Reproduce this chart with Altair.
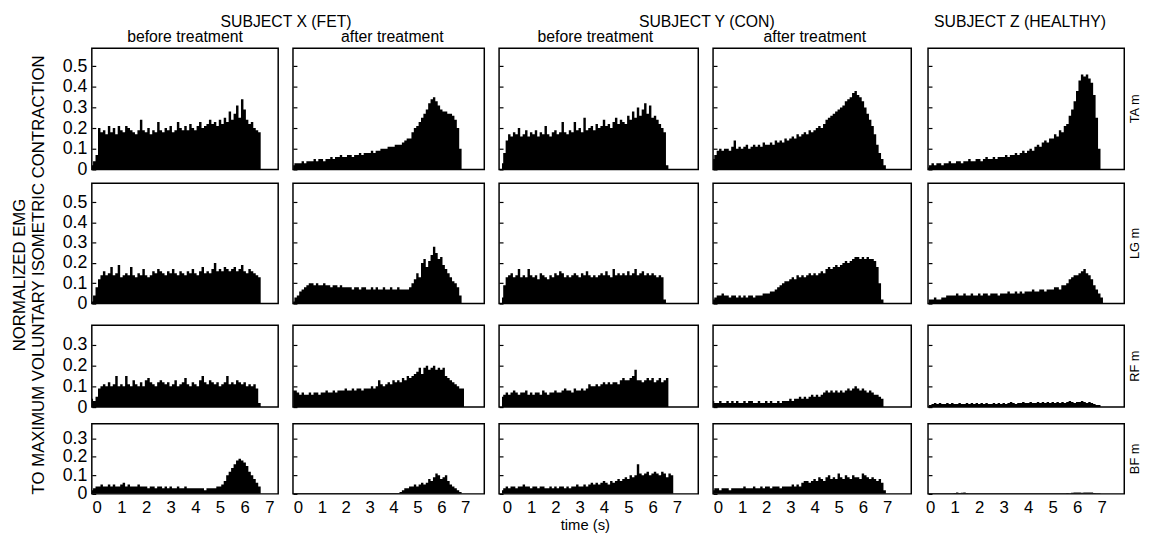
import altair as alt
import pandas as pd

# sampling grid of the EMG envelopes (seconds): first sample and step
T_START = -0.2
T_STEP = 0.1

# ---------------- TA m ----------------
ta_x_before = [
    0.02, 0.04, 0.07, 0.20, 0.18, 0.19, 0.17, 0.21, 0.18, 0.20,
    0.17, 0.21, 0.19, 0.18, 0.21, 0.20, 0.19, 0.18, 0.17, 0.19,
    0.24, 0.19, 0.18, 0.20, 0.17, 0.19, 0.18, 0.23, 0.19, 0.18,
    0.20, 0.19, 0.21, 0.18, 0.19, 0.23, 0.20, 0.19, 0.21, 0.19,
    0.22, 0.20, 0.19, 0.21, 0.23, 0.20, 0.21, 0.22, 0.24, 0.22,
    0.23, 0.21, 0.24, 0.22, 0.25, 0.23, 0.28, 0.24, 0.27, 0.31,
    0.25, 0.34, 0.29, 0.24, 0.22, 0.23, 0.20, 0.19, 0.18, 0,
]
ta_x_after = [
    0.02, 0.03, 0.03, 0.03, 0.04, 0.03, 0.04, 0.04, 0.04, 0.05,
    0.04, 0.05, 0.05, 0.04, 0.05, 0.05, 0.06, 0.05, 0.06, 0.06,
    0.07, 0.06, 0.06, 0.07, 0.07, 0.06, 0.07, 0.07, 0.08, 0.07,
    0.08, 0.08, 0.08, 0.09, 0.08, 0.09, 0.09, 0.10, 0.10, 0.10,
    0.11, 0.11, 0.11, 0.12, 0.12, 0.12, 0.13, 0.14, 0.15, 0.15,
    0.18, 0.20, 0.21, 0.23, 0.25, 0.27, 0.29, 0.32, 0.34, 0.35,
    0.33, 0.31, 0.29, 0.28, 0.28, 0.27, 0.27, 0.26, 0.24, 0.20,
    0.10, 0,
]
ta_y_before = [
    0.03, 0.08, 0.14, 0.17, 0.16, 0.18, 0.17, 0.20, 0.16, 0.17,
    0.19, 0.16, 0.18, 0.17, 0.19, 0.16, 0.18, 0.17, 0.21, 0.17,
    0.16, 0.18, 0.19, 0.17, 0.18, 0.23, 0.18, 0.17, 0.19, 0.18,
    0.23, 0.19, 0.20, 0.18, 0.25, 0.19, 0.20, 0.21, 0.19, 0.22,
    0.20, 0.21, 0.24, 0.21, 0.22, 0.20, 0.23, 0.25, 0.22, 0.24,
    0.23, 0.22, 0.26, 0.24, 0.28, 0.25, 0.30, 0.26, 0.29, 0.32,
    0.27, 0.31, 0.25, 0.26, 0.24, 0.22, 0.20, 0.18, 0.02, 0,
]
ta_y_after = [
    0.05, 0.07, 0.09, 0.10, 0.09, 0.10, 0.10, 0.09, 0.11, 0.14,
    0.10, 0.11, 0.10, 0.11, 0.12, 0.10, 0.11, 0.12, 0.11, 0.12,
    0.11, 0.13, 0.12, 0.12, 0.13, 0.12, 0.14, 0.13, 0.14, 0.13,
    0.15, 0.14, 0.15, 0.16, 0.15, 0.17, 0.16, 0.17, 0.18, 0.17,
    0.19, 0.18, 0.19, 0.20, 0.21, 0.20, 0.22, 0.24, 0.25, 0.26,
    0.27, 0.28, 0.29, 0.30, 0.31, 0.33, 0.34, 0.35, 0.37, 0.38,
    0.36, 0.35, 0.33, 0.30, 0.27, 0.24, 0.21, 0.17, 0.12, 0.08,
    0.05, 0.02, 0,
]
ta_z = [
    0, 0.01, 0.02, 0.03, 0.02, 0.03, 0.03, 0.02, 0.03, 0.03,
    0.04, 0.03, 0.03, 0.04, 0.04, 0.03, 0.04, 0.04, 0.05, 0.04,
    0.04, 0.05, 0.05, 0.04, 0.05, 0.06, 0.05, 0.05, 0.06, 0.05,
    0.06, 0.06, 0.06, 0.07, 0.06, 0.07, 0.07, 0.08, 0.07, 0.08,
    0.09, 0.08, 0.09, 0.10, 0.09, 0.11, 0.12, 0.11, 0.13, 0.14,
    0.13, 0.15, 0.15, 0.17, 0.16, 0.19, 0.18, 0.21, 0.22, 0.26,
    0.29, 0.33, 0.38, 0.43, 0.46, 0.45, 0.46, 0.44, 0.42, 0.36,
    0.25, 0.10, 0,
]

# ---------------- LG m ----------------
lg_x_before = [
    0.01, 0.04, 0.08, 0.12, 0.14, 0.16, 0.14, 0.15, 0.18, 0.14,
    0.15, 0.19, 0.13, 0.14, 0.15, 0.14, 0.18, 0.14, 0.13, 0.15,
    0.14, 0.17, 0.14, 0.13, 0.14, 0.16, 0.15, 0.17, 0.16, 0.15,
    0.14, 0.16, 0.15, 0.17, 0.15, 0.14, 0.16, 0.15, 0.14, 0.16,
    0.15, 0.17, 0.15, 0.14, 0.16, 0.18, 0.15, 0.16, 0.15, 0.17,
    0.20, 0.16, 0.17, 0.16, 0.18, 0.17, 0.16, 0.17, 0.18, 0.16,
    0.17, 0.19, 0.16, 0.15, 0.17, 0.16, 0.15, 0.14, 0.13, 0,
]
lg_x_after = [
    0.01, 0.03, 0.04, 0.06, 0.07, 0.08, 0.09, 0.10, 0.10, 0.09,
    0.10, 0.09, 0.09, 0.10, 0.09, 0.09, 0.08, 0.09, 0.09, 0.08,
    0.09, 0.08, 0.08, 0.08, 0.08, 0.07, 0.08, 0.08, 0.07, 0.08,
    0.08, 0.07, 0.07, 0.08, 0.07, 0.08, 0.07, 0.07, 0.08, 0.07,
    0.07, 0.08, 0.07, 0.07, 0.08, 0.07, 0.07, 0.07, 0.07, 0.08,
    0.10, 0.12, 0.15, 0.13, 0.20, 0.22, 0.18, 0.21, 0.24, 0.28,
    0.25, 0.22, 0.23, 0.19, 0.17, 0.15, 0.13, 0.11, 0.10, 0.08,
    0.04, 0,
]
lg_y_before = [
    0.03, 0.09, 0.13, 0.14, 0.15, 0.13, 0.14, 0.17, 0.13, 0.14,
    0.13, 0.17, 0.14, 0.13, 0.14, 0.12, 0.15, 0.14, 0.13, 0.12,
    0.14, 0.13, 0.15, 0.14, 0.16, 0.15, 0.13, 0.14, 0.13, 0.14,
    0.15, 0.14, 0.13, 0.15, 0.14, 0.16, 0.14, 0.13, 0.14, 0.13,
    0.14, 0.15, 0.14, 0.16, 0.14, 0.13, 0.17, 0.14, 0.15, 0.14,
    0.15, 0.14, 0.16, 0.14, 0.15, 0.17, 0.14, 0.15, 0.16, 0.14,
    0.15, 0.14, 0.15, 0.14, 0.13, 0.14, 0.13, 0.02, 0,
]
lg_y_after = [
    0.02, 0.03, 0.04, 0.04, 0.05, 0.04, 0.04, 0.03, 0.04, 0.04,
    0.03, 0.04, 0.03, 0.04, 0.03, 0.04, 0.04, 0.03, 0.04, 0.04,
    0.04, 0.05, 0.05, 0.05, 0.06, 0.06, 0.07, 0.08, 0.09, 0.10,
    0.11, 0.11, 0.12, 0.13, 0.12, 0.14, 0.13, 0.14, 0.13, 0.14,
    0.15, 0.14, 0.15, 0.14, 0.15, 0.16, 0.15, 0.17, 0.18, 0.17,
    0.18, 0.19, 0.18, 0.19, 0.20, 0.21, 0.20, 0.21, 0.22, 0.23,
    0.23, 0.22, 0.23, 0.22, 0.23, 0.22, 0.22, 0.21, 0.18, 0.10,
    0.02, 0,
]
lg_z = [
    0, 0, 0.02, 0.02, 0.03, 0.02, 0.02, 0.03, 0.03, 0.04,
    0.04, 0.04, 0.04, 0.05, 0.04, 0.04, 0.05, 0.04, 0.04, 0.05,
    0.04, 0.04, 0.05, 0.04, 0.05, 0.05, 0.04, 0.05, 0.05, 0.05,
    0.04, 0.05, 0.05, 0.05, 0.06, 0.05, 0.05, 0.06, 0.05, 0.06,
    0.05, 0.06, 0.06, 0.06, 0.07, 0.06, 0.06, 0.07, 0.07, 0.06,
    0.07, 0.07, 0.07, 0.08, 0.08, 0.07, 0.09, 0.09, 0.10, 0.12,
    0.13, 0.14, 0.14, 0.15, 0.16, 0.17, 0.15, 0.14, 0.12, 0.09,
    0.07, 0.05, 0.03, 0,
]

# ---------------- RF m ----------------
rf_x_before = [
    0.04, 0.03, 0.05, 0.09, 0.10, 0.11, 0.10, 0.12, 0.10, 0.11,
    0.15, 0.10, 0.11, 0.10, 0.15, 0.11, 0.10, 0.13, 0.11, 0.10,
    0.12, 0.10, 0.13, 0.14, 0.12, 0.11, 0.10, 0.12, 0.13, 0.12,
    0.11, 0.12, 0.10, 0.11, 0.13, 0.10, 0.11, 0.12, 0.14, 0.11,
    0.10, 0.12, 0.11, 0.10, 0.13, 0.15, 0.12, 0.11, 0.13, 0.12,
    0.11, 0.12, 0.10, 0.11, 0.12, 0.15, 0.11, 0.12, 0.11, 0.13,
    0.12, 0.11, 0.12, 0.10, 0.11, 0.10, 0.11, 0.09, 0.02, 0,
]
rf_x_after = [
    0.08, 0.08, 0.07, 0.06, 0.07, 0.06, 0.06, 0.07, 0.06, 0.07,
    0.07, 0.06, 0.07, 0.07, 0.08, 0.07, 0.07, 0.08, 0.07, 0.08,
    0.08, 0.08, 0.09, 0.08, 0.08, 0.09, 0.08, 0.09, 0.09, 0.08,
    0.09, 0.09, 0.09, 0.10, 0.09, 0.10, 0.13, 0.11, 0.10, 0.11,
    0.12, 0.11, 0.13, 0.12, 0.13, 0.12, 0.14, 0.13, 0.15, 0.14,
    0.15, 0.16, 0.17, 0.19, 0.16, 0.19, 0.20, 0.18, 0.19, 0.20,
    0.18, 0.19, 0.18, 0.19, 0.15, 0.14, 0.13, 0.12, 0.11, 0.10,
    0.09, 0.09, 0,
]
rf_y_before = [
    0.05, 0.06, 0.07, 0.06, 0.07, 0.08, 0.07, 0.06, 0.07, 0.07,
    0.08, 0.06, 0.07, 0.06, 0.07, 0.07, 0.06, 0.08, 0.07, 0.06,
    0.07, 0.07, 0.08, 0.07, 0.07, 0.08, 0.09, 0.08, 0.08, 0.07,
    0.09, 0.08, 0.08, 0.09, 0.08, 0.09, 0.11, 0.10, 0.10, 0.11,
    0.10, 0.11, 0.12, 0.11, 0.12, 0.11, 0.12, 0.12, 0.11, 0.13,
    0.14, 0.13, 0.13, 0.14, 0.15, 0.18, 0.13, 0.13, 0.12, 0.13,
    0.14, 0.13, 0.14, 0.12, 0.13, 0.14, 0.12, 0.13, 0.14, 0,
]
rf_y_after = [
    0.03, 0.02, 0.02, 0.03, 0.02, 0.02, 0.03, 0.02, 0.03, 0.02,
    0.03, 0.02, 0.02, 0.03, 0.02, 0.03, 0.03, 0.02, 0.02, 0.03,
    0.02, 0.02, 0.03, 0.02, 0.03, 0.02, 0.02, 0.03, 0.02, 0.03,
    0.03, 0.03, 0.04, 0.03, 0.04, 0.04, 0.05, 0.04, 0.05, 0.04,
    0.05, 0.06, 0.05, 0.06, 0.05, 0.06, 0.07, 0.08, 0.07, 0.08,
    0.07, 0.08, 0.07, 0.08, 0.07, 0.08, 0.09, 0.08, 0.09, 0.10,
    0.09, 0.08, 0.09, 0.08, 0.07, 0.08, 0.07, 0.06, 0.06, 0.05,
    0.04, 0,
]
rf_z = [
    0, 0, 0.01, 0.015, 0.02, 0.015, 0.02, 0.015, 0.015, 0.02,
    0.015, 0.02, 0.015, 0.015, 0.02, 0.015, 0.015, 0.02, 0.015, 0.02,
    0.015, 0.02, 0.015, 0.02, 0.015, 0.02, 0.015, 0.015, 0.02, 0.015,
    0.02, 0.015, 0.02, 0.015, 0.02, 0.025, 0.02, 0.015, 0.02, 0.02,
    0.025, 0.02, 0.02, 0.025, 0.02, 0.02, 0.025, 0.02, 0.025, 0.02,
    0.025, 0.02, 0.025, 0.02, 0.025, 0.02, 0.025, 0.02, 0.025, 0.03,
    0.025, 0.02, 0.025, 0.025, 0.03, 0.025, 0.02, 0.025, 0.02, 0.015,
    0.01, 0.01, 0,
]

# ---------------- BF m ----------------
bf_x_before = [
    0.02, 0.03, 0.04, 0.04, 0.05, 0.04, 0.04, 0.05, 0.04, 0.05,
    0.04, 0.04, 0.05, 0.06, 0.04, 0.05, 0.04, 0.04, 0.04, 0.05,
    0.04, 0.04, 0.04, 0.03, 0.04, 0.04, 0.03, 0.04, 0.04, 0.03,
    0.04, 0.03, 0.04, 0.03, 0.03, 0.04, 0.03, 0.03, 0.04, 0.03,
    0.03, 0.03, 0.03, 0.03, 0.03, 0.03, 0.02, 0.03, 0.03, 0.03,
    0.03, 0.04, 0.04, 0.05, 0.07, 0.10, 0.12, 0.14, 0.16, 0.18,
    0.19, 0.18, 0.17, 0.15, 0.12, 0.10, 0.08, 0.06, 0.04, 0,
]
bf_x_after = [
    0.005, 0.005, 0.005, 0.005, 0.005, 0.005, 0.005, 0.005, 0.005, 0.005,
    0.005, 0.005, 0.005, 0.005, 0.005, 0.005, 0.005, 0.005, 0.005, 0.005,
    0.005, 0.005, 0.005, 0.005, 0.005, 0.005, 0.005, 0.005, 0.005, 0.005,
    0.005, 0.005, 0.005, 0.005, 0.005, 0.005, 0.005, 0.005, 0.005, 0.005,
    0.005, 0.005, 0.005, 0.005, 0.005, 0.01, 0.02, 0.03, 0.03, 0.04,
    0.04, 0.05, 0.04, 0.05, 0.06, 0.05, 0.06, 0.08, 0.07, 0.09,
    0.11, 0.10, 0.08, 0.09, 0.10, 0.07, 0.05, 0.04, 0.03, 0.02,
    0.01, 0,
]
bf_y_before = [
    0.02, 0.03, 0.04, 0.03, 0.04, 0.04, 0.03, 0.04, 0.04, 0.05,
    0.04, 0.04, 0.03, 0.04, 0.04, 0.03, 0.04, 0.04, 0.03, 0.03,
    0.04, 0.03, 0.04, 0.03, 0.04, 0.04, 0.03, 0.04, 0.03, 0.04,
    0.04, 0.05, 0.04, 0.04, 0.05, 0.04, 0.05, 0.06, 0.05, 0.06,
    0.05, 0.06, 0.07, 0.06, 0.05, 0.07, 0.06, 0.07, 0.08, 0.07,
    0.08, 0.09, 0.08, 0.10, 0.09, 0.10, 0.16, 0.11, 0.10, 0.11,
    0.12, 0.10, 0.11, 0.12, 0.11, 0.10, 0.12, 0.11, 0.09, 0.11,
    0.10, 0,
]
bf_y_after = [
    0.02, 0.03, 0.03, 0.02, 0.03, 0.03, 0.03, 0.02, 0.03, 0.03,
    0.03, 0.03, 0.03, 0.04, 0.03, 0.03, 0.03, 0.04, 0.03, 0.03,
    0.04, 0.03, 0.04, 0.04, 0.03, 0.04, 0.04, 0.04, 0.03, 0.04,
    0.04, 0.04, 0.04, 0.05, 0.04, 0.05, 0.04, 0.06, 0.07, 0.07,
    0.06, 0.07, 0.08, 0.07, 0.09, 0.08, 0.07, 0.09, 0.10, 0.08,
    0.09, 0.08, 0.11, 0.09, 0.08, 0.10, 0.09, 0.08, 0.10, 0.09,
    0.09, 0.08, 0.11, 0.10, 0.09, 0.08, 0.09, 0.08, 0.07, 0.08,
    0.06, 0.02, 0,
]
bf_z = [
    0, 0, 0.003, 0.003, 0.003, 0.003, 0.003, 0.003, 0.003, 0.003,
    0.003, 0.003, 0.005, 0.008, 0.005, 0.006, 0.008, 0.005, 0.003, 0.003,
    0.003, 0.003, 0.003, 0.003, 0.003, 0.003, 0.003, 0.003, 0.003, 0.003,
    0.003, 0.003, 0.003, 0.003, 0.003, 0.003, 0.003, 0.003, 0.003, 0.003,
    0.003, 0.003, 0.003, 0.003, 0.003, 0.003, 0.003, 0.003, 0.003, 0.003,
    0.003, 0.003, 0.003, 0.003, 0.003, 0.003, 0.003, 0.003, 0.005, 0.003,
    0.006, 0.008, 0.007, 0.008, 0.006, 0.008, 0.007, 0.008, 0.007, 0.005,
    0.003, 0.003, 0,
]

SERIES = [
    [ta_x_before, ta_x_after, ta_y_before, ta_y_after, ta_z],
    [lg_x_before, lg_x_after, lg_y_before, lg_y_after, lg_z],
    [rf_x_before, rf_x_after, rf_y_before, rf_y_after, rf_z],
    [bf_x_before, bf_x_after, bf_y_before, bf_y_after, bf_z],
]

SUBJECTS = ["SUBJECT X (FET)", "SUBJECT Y (CON)", "SUBJECT Z (HEALTHY)"]
CONDITIONS = ["before treatment", "after treatment", "before treatment", "after treatment"]
MUSCLES = ["TA m", "LG m", "RF m", "BF m"]
Y_TITLE = ["NORMALIZED EMG", "TO MAXIMUM VOLUNTARY ISOMETRIC CONTRACTION"]
X_TITLE = "time (s)"
Y_TICKS_UPPER = [0, 0.1, 0.2, 0.3, 0.4, 0.5]
Y_TICKS_LOWER = [0, 0.1, 0.2, 0.3]
X_TICKS = [0, 1, 2, 3, 4, 5, 6, 7]

# ---------------- layout / style ----------------
FONT = "Liberation Sans, Arial, sans-serif"
COL_W = [189, 194, 202, 201, 199]
ROW_H = [123, 122, 83, 71]
ROW_GAP = [14, 22, 17]
COL_GAP = 12
X_DOM = [[-0.2, 7.36], [-0.21, 7.8], [-0.32, 7.88], [-0.2, 8.0], [-0.09, 7.92]]
Y_MAX = [0.587, 0.594, 0.395, 0.378]
COND_DX = [15, 4, -3, 3]


def panel(r, c):
    vals = SERIES[r][c]
    df = pd.DataFrame({
        "t": [round(T_START + T_STEP * i, 2) for i in range(len(vals))],
        "v": vals,
    })
    yaxis = alt.Axis(
        values=Y_TICKS_UPPER if r < 2 else Y_TICKS_LOWER,
        format=".1~f", labels=(c == 0), tickSize=4, tickWidth=1.2,
        tickColor="black", offset=-4, domain=False, grid=False, title=None,
        labelFontSize=18, labelFont=FONT, labelColor="black",
        labelPadding=5, labelFlush=False,
    )
    if r == 3:
        kw = dict(values=X_TICKS, ticks=False, domain=False, grid=False,
                  labelFontSize=17, labelFont=FONT, labelColor="black",
                  labelPadding=6, labelFlush=False)
        if c == 2:
            kw.update(title=X_TITLE, titleFontSize=15, titleFont=FONT,
                      titleFontWeight="normal", titleColor="black",
                      titleX=87, titleY=31, titleBaseline="middle")
        else:
            kw["title"] = None
        xaxis = alt.Axis(**kw)
    else:
        xaxis = None
    area = alt.Chart(df).mark_area(interpolate="step", color="black", clip=True).encode(
        x=alt.X("t:Q", scale=alt.Scale(domain=X_DOM[c], nice=False, zero=False), axis=xaxis),
        y=alt.Y("v:Q", scale=alt.Scale(domain=[0, Y_MAX[r]], nice=False), axis=yaxis),
    )
    if c == 4:
        lab = alt.Chart(pd.DataFrame({"m": [MUSCLES[r]]})).mark_text(
            angle=270, fontSize=13, font=FONT, color="black",
            align="center", baseline="middle",
        ).encode(text="m:N", x=alt.value(COL_W[c] + 11), y=alt.value(ROW_H[r] / 2))
        return alt.layer(area, lab).properties(width=COL_W[c], height=ROW_H[r])
    return area.properties(width=COL_W[c], height=ROW_H[r])


def spacer(w, h):
    return alt.Chart(pd.DataFrame({"k": [0]})).mark_point(opacity=0, size=1).encode(
        x=alt.value(1), y=alt.value(1)
    ).properties(width=w, height=h, view=alt.ViewBackground(stroke="transparent"))


def column(c, title):
    items = []
    for r in range(4):
        items.append(panel(r, c))
        if r < 3:
            items.append(spacer(COL_W[c], ROW_GAP[r]))
    return alt.vconcat(*items, spacing=0, bounds="flush", title=title)


def ttl(text, offset, dx):
    return alt.TitleParams(text, fontSize=16, font=FONT, fontWeight="normal",
                           color="black", offset=offset, dx=dx, anchor="middle")


cols = [column(c, ttl(CONDITIONS[c], 2, COND_DX[c])) for c in range(4)]
group_x = alt.hconcat(cols[0], cols[1], spacing=COL_GAP, title=ttl(SUBJECTS[0], 0, 13))
group_y = alt.hconcat(cols[2], cols[3], spacing=COL_GAP, title=ttl(SUBJECTS[1], 0, 2))
group_z = column(4, ttl(SUBJECTS[2], 18, -14))

ytitle = alt.layer(
    alt.Chart(pd.DataFrame({"s": [Y_TITLE[0]]})).mark_text(
        angle=270, fontSize=17, font=FONT, color="black", align="center", baseline="middle"
    ).encode(text="s:N", x=alt.value(11), y=alt.value(230)),
    alt.Chart(pd.DataFrame({"s": [Y_TITLE[1]]})).mark_text(
        angle=270, fontSize=17, font=FONT, color="black", align="center", baseline="middle"
    ).encode(text="s:N", x=alt.value(31), y=alt.value(230)),
).properties(width=40, height=440, view=alt.ViewBackground(stroke="transparent"))

chart = alt.hconcat(ytitle, group_x, group_y, group_z, spacing=COL_GAP).properties(
    padding={"left": 0, "top": 2, "right": 0, "bottom": -1},
    background="white",
).configure_view(stroke="black", strokeWidth=1.5)

chart.save("out.html", embed_options={"renderer": "svg", "actions": False})
